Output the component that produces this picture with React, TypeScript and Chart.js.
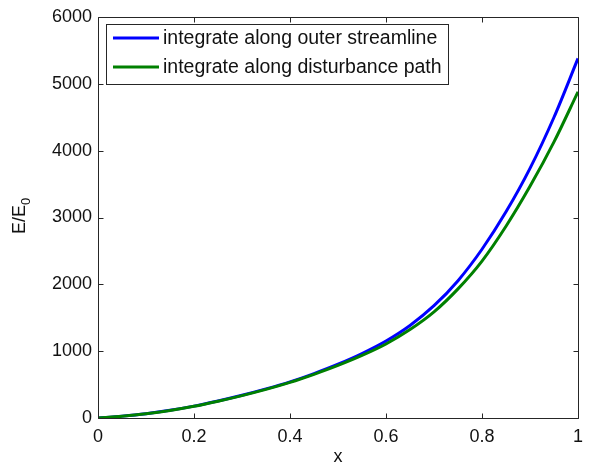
import React, { useEffect, useRef } from "react";
import { Chart, registerables } from "chart.js";

Chart.register(...registerables);

const xValues = [0, 0.05, 0.1, 0.15, 0.2, 0.25, 0.3, 0.35, 0.4, 0.45, 0.5, 0.55, 0.6, 0.65, 0.7, 0.75, 0.8, 0.85, 0.9, 0.95, 1.0];
const outerValues = [0, 28, 65, 115, 178, 255, 340, 435, 540, 665, 805, 965, 1152, 1385, 1680, 2055, 2525, 3085, 3735, 4500, 5380];
const disturbanceValues = [0, 27, 64, 113, 175, 251, 335, 428, 533, 654, 787, 936, 1108, 1323, 1588, 1932, 2348, 2869, 3466, 4131, 4880];
const seriesLabels = ["integrate along outer streamline", "integrate along disturbance path"];
const seriesColors = ["rgb(0,0,255)", "rgb(0,128,0)"];
const xTicks = [0, 0.2, 0.4, 0.6, 0.8, 1];
const yTicks = [0, 1000, 2000, 3000, 4000, 5000, 6000];
const xTitle = "x";
const yTitleMain = "E/E";
const yTitleSub = "0";

const FONT = "'Liberation Sans', Arial, Helvetica, sans-serif";

const matlabPlugin = {
  id: "matlabDecor",
  afterDatasetsDraw(chart: any) {
    const { ctx, chartArea } = chart;
    const { left, right, top, bottom } = chartArea;
    const xs = chart.scales.x;
    const ys = chart.scales.y;
    ctx.save();
    ctx.strokeStyle = "#262626";
    ctx.lineWidth = 1;
    const L = Math.round(left) + 0.5;
    const R = Math.round(right) + 0.5;
    const T = Math.round(top) + 0.5;
    const B = Math.round(bottom) + 0.5;
    ctx.beginPath();
    ctx.rect(L, T, R - L, B - T);
    ctx.stroke();
    const tl = 5;
    ctx.beginPath();
    xTicks.forEach((v) => {
      const px = Math.round(xs.getPixelForValue(v)) + 0.5;
      ctx.moveTo(px, B);
      ctx.lineTo(px, B - tl);
      ctx.moveTo(px, T);
      ctx.lineTo(px, T + tl);
    });
    yTicks.forEach((v) => {
      const py = Math.round(ys.getPixelForValue(v)) + 0.5;
      ctx.moveTo(L, py);
      ctx.lineTo(L + tl, py);
      ctx.moveTo(R, py);
      ctx.lineTo(R - tl, py);
    });
    ctx.stroke();

    // legend
    const lx = 106.5, ly = 24.5, lw = 342, lh = 60;
    ctx.fillStyle = "#fff";
    ctx.fillRect(lx, ly, lw, lh);
    ctx.strokeStyle = "#262626";
    ctx.strokeRect(lx, ly, lw, lh);
    const rows = [38, 67];
    ctx.font = `19.5px ${FONT}`;
    ctx.textBaseline = "middle";
    ctx.textAlign = "left";
    chart.data.datasets.forEach((ds: any, i: number) => {
      const y = rows[i];
      ctx.strokeStyle = ds.borderColor;
      ctx.lineWidth = 3;
      ctx.beginPath();
      ctx.moveTo(113, y);
      ctx.lineTo(159, y);
      ctx.stroke();
      ctx.fillStyle = "#111";
      ctx.fillText(ds.label, 163, y + 1);
    });

    // axis titles
    ctx.fillStyle = "#111";
    ctx.font = `18px ${FONT}`;
    ctx.textAlign = "center";
    ctx.textBaseline = "middle";
    ctx.fillText(xTitle, (left + right) / 2, 457);
    ctx.save();
    ctx.translate(20, 216);
    ctx.rotate(-Math.PI / 2);
    ctx.textAlign = "left";
    ctx.font = `18px ${FONT}`;
    const mainW = ctx.measureText(yTitleMain).width;
    ctx.font = `13px ${FONT}`;
    const subW = ctx.measureText(yTitleSub).width;
    const start = -(mainW + subW) / 2;
    ctx.font = `18px ${FONT}`;
    ctx.fillText(yTitleMain, start, 0);
    ctx.font = `13px ${FONT}`;
    ctx.fillText(yTitleSub, start + mainW, 6);
    ctx.restore();
    ctx.restore();
  },
};

export default function App() {
  const ref = useRef<HTMLCanvasElement | null>(null);
  useEffect(() => {
    document.body.style.margin = "0";
    const canvas = ref.current;
    if (!canvas) return;
    const chart = new Chart(canvas, {
      type: "line",
      data: {
        datasets: [
          {
            label: seriesLabels[0],
            data: xValues.map((x, i) => ({ x, y: outerValues[i] })),
            borderColor: seriesColors[0],
            backgroundColor: seriesColors[0],
            borderWidth: 3,
            pointRadius: 0,
            cubicInterpolationMode: "monotone",
            order: 1,
          },
          {
            label: seriesLabels[1],
            data: xValues.map((x, i) => ({ x, y: disturbanceValues[i] })),
            borderColor: seriesColors[1],
            backgroundColor: seriesColors[1],
            borderWidth: 3,
            pointRadius: 0,
            cubicInterpolationMode: "monotone",
            order: 0,
          },
        ],
      },
      options: {
        responsive: false,
        animation: false,
        events: [],
        layout: { padding: { top: 17, right: 19, left: 0, bottom: 0 } },
        plugins: { legend: { display: false }, tooltip: { enabled: false } },
        scales: {
          x: {
            type: "linear",
            min: 0,
            max: 1,
            afterFit: (s: any) => { s.height = 49; },
            afterBuildTicks: (s: any) => { s.ticks = xTicks.map((v) => ({ value: v })); },
            grid: { display: false, drawTicks: false },
            border: { display: false },
            ticks: {
              color: "#111",
              font: { family: FONT, size: 18 },
              padding: 8,
              maxRotation: 0,
              callback: (v: any) => String(v),
            },
          },
          y: {
            type: "linear",
            min: 0,
            max: 6000,
            afterFit: (s: any) => { s.width = 98; },
            afterBuildTicks: (s: any) => { s.ticks = yTicks.map((v) => ({ value: v })); },
            grid: { display: false, drawTicks: false },
            border: { display: false },
            ticks: {
              color: "#111",
              font: { family: FONT, size: 18 },
              padding: 6,
              callback: (v: any) => String(v),
            },
          },
        },
      },
      plugins: [matlabPlugin],
    });
    return () => chart.destroy();
  }, []);
  return (
    <div style={{ position: "absolute", left: 0, top: 0, width: 597, height: 467, background: "#fff" }}>
      <canvas ref={ref} width={597} height={467} style={{ width: 597, height: 467, display: "block" }} />
    </div>
  );
}
